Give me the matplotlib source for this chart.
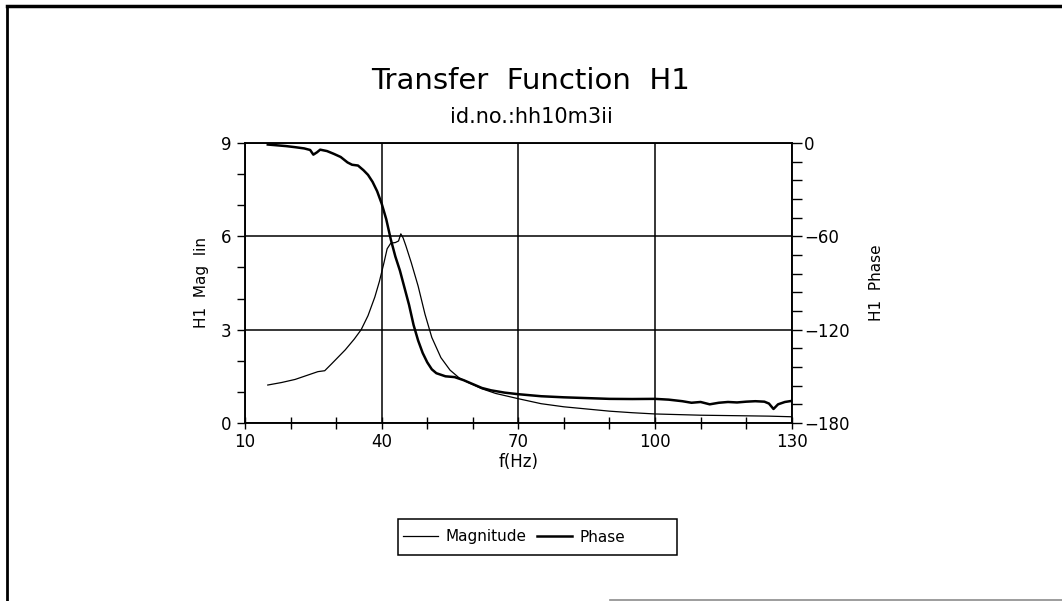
import numpy as np
import matplotlib
matplotlib.use('Agg')
import matplotlib.pyplot as plt
from matplotlib.lines import Line2D
from matplotlib.patches import Rectangle

# Magnitude (thin line)
mag_freq = [15, 18, 21, 24, 26, 27.5, 29, 32, 34, 35.5, 37, 38.5, 39.5, 40.5,
            41.2, 42, 43, 43.7, 44.2, 44.7, 45.3, 46.5, 48, 49.5, 51, 53, 55,
            57, 59, 62, 65, 70, 75, 80, 85, 90, 95, 100, 105, 110, 115, 120,
            125, 130]
mag_vals = [1.22, 1.30, 1.40, 1.55, 1.65, 1.68, 1.90, 2.35, 2.70, 3.0, 3.45,
            4.05, 4.55, 5.15, 5.6, 5.78, 5.80, 5.85, 6.08, 5.95, 5.70, 5.15,
            4.40, 3.50, 2.75, 2.10, 1.70, 1.45, 1.30, 1.10, 0.95, 0.78, 0.62,
            0.52, 0.45, 0.38, 0.33, 0.29, 0.27, 0.25, 0.24, 0.23, 0.22, 0.20]

# Phase (thick line), degrees
phase_freq = [15, 17, 19, 21, 23, 24.3, 25, 25.8, 26.5, 28, 29.5, 31, 32.5,
              33.5, 34.8, 36, 37, 38, 39, 40, 41, 42, 43, 44, 45, 46, 47, 48,
              49, 50, 51, 52, 54, 56, 58, 60, 62, 64, 67, 70, 75, 80, 85, 90,
              95, 100, 103, 106, 108, 110, 112, 114, 116, 118, 120, 122, 124,
              125, 126, 127, 128.5, 130]
phase_vals = [-1, -1.5, -2, -2.7, -3.5, -4.5, -7.5, -6, -4.3, -5.2, -7, -9,
              -12.5, -14, -14.5, -17.5, -20.5, -25, -31, -39, -49, -62, -73,
              -82, -93, -104, -117, -127, -135, -141, -145.5, -148, -150,
              -150.5, -152.5, -155, -157.5, -159, -160.5, -161.5, -162.8,
              -163.5, -164, -164.5, -164.6, -164.5, -165, -166, -167, -166.5,
              -168, -167, -166.5, -166.8, -166.3, -166, -166.3, -167.5, -171,
              -168, -166.5, -165.8]

x_ticks = [10, 40, 70, 100, 130]
mag_ticks = [0, 3, 6, 9]
phase_ticks = [-180, -120, -60, 0]

plt.rcParams['font.family'] = ['DejaVu Sans']

fig = plt.figure(figsize=(10.62, 6.01), dpi=100)
ax = fig.add_axes([0.2307, 0.2962, 0.5148, 0.4659])
ax2 = ax.twinx()

ln_mag, = ax.plot(mag_freq, mag_vals, color='black', lw=0.9)
ln_ph, = ax2.plot(phase_freq, phase_vals, color='black', lw=1.8)

ax.set_xlim(10, 130)
ax.set_ylim(0, 9)
ax2.set_ylim(-180, 0)

ax.set_xticks(x_ticks)
ax.set_xticks(np.arange(10, 131, 10), minor=True)
ax.set_yticks(mag_ticks)
ax.set_yticks(np.arange(0, 10, 1), minor=True)
ax2.set_yticks(phase_ticks)
ax2.set_yticklabels(['\u2212180', '\u2212120', '\u221260', '0'])
ax2.set_yticks(np.arange(-180, 1, 12), minor=True)

ax.grid(True, which='major', color='black', lw=1.1)

for a in (ax, ax2):
    for s in a.spines.values():
        s.set_linewidth(1.1)

ax.tick_params(axis='x', which='both', direction='inout', length=8, width=1,
               labelsize=12, pad=3)
ax.tick_params(axis='y', which='both', direction='out', length=6, width=1,
               labelsize=12, pad=4)
ax2.tick_params(axis='y', which='both', direction='out', length=7, width=1,
                labelsize=12, pad=2)

ax.set_xlabel('f(Hz)', fontsize=12, labelpad=2)
ax.set_ylabel('H1  Mag  lin', fontsize=11, labelpad=8)
ax2.set_ylabel('H1  Phase', fontsize=11, labelpad=14)

fig.text(0.5, 1 - 81 / 601, 'Transfer  Function  H1', ha='center', va='center',
         fontsize=21)
fig.text(0.5, 1 - 117 / 601, 'id.no.:hh10m3ii', ha='center', va='center',
         fontsize=15)

# legend box with extra room on the right like the original
fig.patches.append(Rectangle((398 / 1062, 1 - 555 / 601), 279 / 1062, 36 / 601,
                             transform=fig.transFigure, fill=False,
                             edgecolor='black', lw=1.1))
fig.legend([ln_mag, ln_ph], ['Magnitude', 'Phase'], ncol=2, frameon=False,
           loc='center left', bbox_to_anchor=(398 / 1062, 1 - 537 / 601),
           fontsize=11, handlelength=2.3, handletextpad=0.5,
           columnspacing=0.7, borderpad=0.3, borderaxespad=0)

# scanned page frame
fig.add_artist(Line2D([7 / 1062, 7 / 1062], [0, 1 - 6 / 601], color='black',
                      lw=2, transform=fig.transFigure))
fig.add_artist(Line2D([7 / 1062, 1], [1 - 6 / 601, 1 - 6 / 601], color='black',
                      lw=2.5, transform=fig.transFigure))
fig.add_artist(Line2D([610 / 1062, 1], [1 - 599.5 / 601, 1 - 599.5 / 601],
                      color='0.55', lw=1.2, transform=fig.transFigure))

fig.savefig('out.png', dpi=100)
